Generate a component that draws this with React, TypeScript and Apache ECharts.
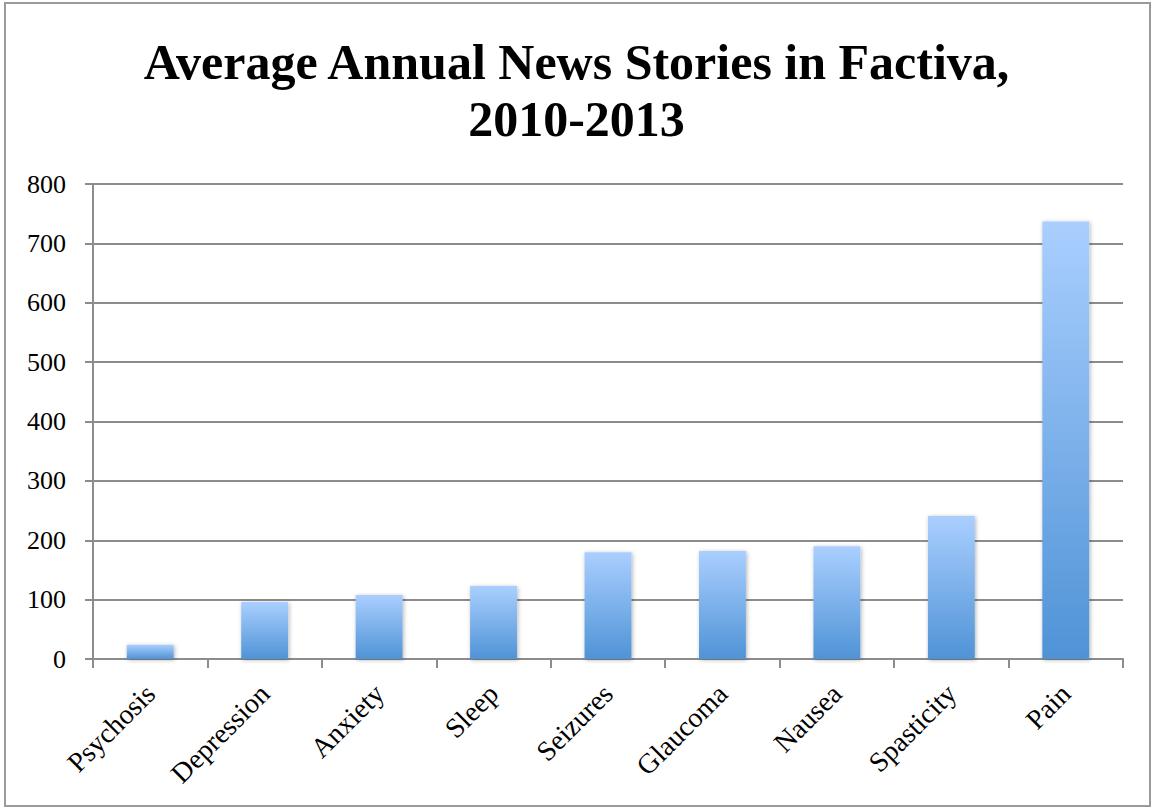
import React, { useEffect, useRef } from "react";
import * as echarts from "echarts";

const categories = ["Psychosis", "Depression", "Anxiety", "Sleep", "Seizures", "Glaucoma", "Nausea", "Spasticity", "Pain"];
const values = [24, 96, 108, 123, 180, 182, 190, 241, 737];
const titleLines = ["Average Annual News Stories in Factiva,", "2010-2013"];

export default function App() {
  const ref = useRef<HTMLDivElement>(null);
  useEffect(() => {
    const chart = echarts.init(ref.current!, null, { renderer: "svg" });
    chart.setOption({
      animation: false,
      backgroundColor: "#ffffff",
      title: {
        text: titleLines.join("\n"),
        left: "center",
        top: 28,
        textStyle: {
          fontFamily: "'Liberation Serif', serif",
          fontWeight: "bold",
          fontSize: 50,
          lineHeight: 57,
          color: "#000",
        },
      },
      graphic: [
        {
          type: "rect",
          shape: { x: 5, y: 3, width: 1145, height: 803 },
          style: { fill: "none", stroke: "#9a9a9a", lineWidth: 2 },
          silent: true,
        },
      ],
      grid: { left: 93, right: 30, top: 184, bottom: 149 },
      xAxis: {
        type: "category",
        data: categories,
        axisLine: { lineStyle: { color: "#8c8c8c", width: 2 } },
        axisTick: { show: true, alignWithLabel: false, length: 9, lineStyle: { color: "#8c8c8c", width: 2 } },
        axisLabel: {
          rotate: 45,
          interval: 0,
          margin: 30,
          fontFamily: "'Liberation Serif', serif",
          fontSize: 28,
          color: "#000",
        },
      },
      yAxis: {
        type: "value",
        min: 0,
        max: 800,
        interval: 100,
        axisLine: { show: true, lineStyle: { color: "#8c8c8c", width: 2 } },
        axisTick: { show: true, length: 8, lineStyle: { color: "#8c8c8c", width: 2 } },
        splitLine: { lineStyle: { color: "#8c8c8c", width: 2 } },
        axisLabel: {
          margin: 27,
          fontFamily: "'Liberation Serif', serif",
          fontSize: 26,
          color: "#000",
        },
      },
      series: [
        {
          type: "bar",
          data: values,
          barWidth: "41%",
          itemStyle: {
            color: new echarts.graphic.LinearGradient(0, 0, 0, 1, [
              { offset: 0, color: "#aacfff" },
              { offset: 1, color: "#4f93d6" },
            ]),
            shadowBlur: 4,
            shadowColor: "rgba(0,0,0,0.3)",
            shadowOffsetX: 1,
            shadowOffsetY: 1,
          },
        },
      ],
    });
    return () => chart.dispose();
  }, []);
  return <div ref={ref} style={{ position: "absolute", left: 0, top: 0, width: 1153, height: 808 }} />;
}
